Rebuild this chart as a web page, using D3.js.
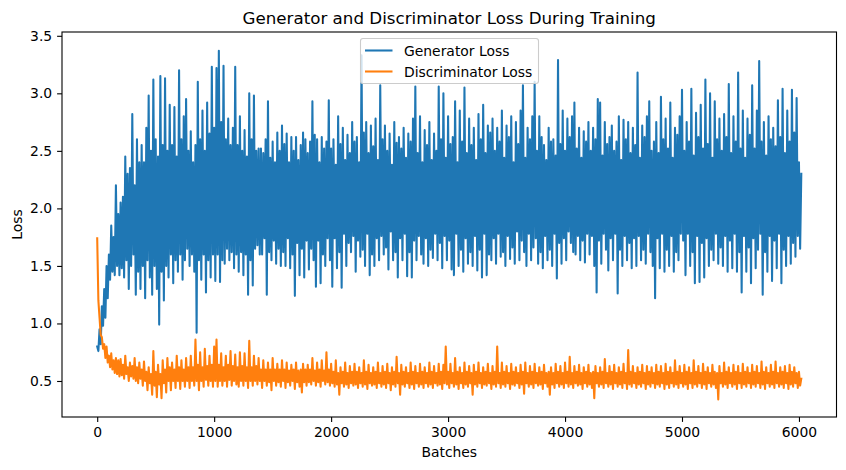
<!DOCTYPE html>
<html>
<head>
<meta charset="utf-8">
<script src="https://cdn.jsdelivr.net/npm/d3@7"></script>
<style>
  html, body { margin: 0; padding: 0; background: #fff; }
  svg { display: block; font-family: "DejaVu Sans", sans-serif; }
</style>
</head>
<body>
<svg id="chart" width="846" height="470"></svg>
<script>
// ---- data (one value every 10 batches) ----
const batchStep = 10;
const seriesNames = ["Generator Loss", "Discriminator Loss"];
const seriesColors = ["#1f77b4", "#ff7f0e"];
const xTicks = [0, 1000, 2000, 3000, 4000, 5000, 6000];
const yTicks = [0.5, 1.0, 1.5, 2.0, 2.5, 3.0, 3.5];

const generatorLoss = [
  0.80, 0.76, 0.95, 0.82, 1.15, 0.98, 1.30, 1.05, 1.50, 1.22, 1.60, 1.38, 1.85, 1.45, 1.75, 1.42, 2.20, 1.50, 1.95, 1.42,
  2.05, 1.48, 2.10, 1.40, 2.45, 1.55, 2.30, 1.30, 2.35, 1.50, 2.82, 1.60, 2.20, 1.25, 2.60, 1.45, 2.40, 1.30, 2.55, 1.50,
  2.40, 1.22, 2.70, 1.55, 2.98, 1.40, 2.50, 1.25, 3.12, 1.50, 2.60, 1.30, 2.45, 0.99, 3.15, 1.45, 2.55, 1.20, 3.13, 1.50,
  2.50, 1.40, 2.90, 1.60, 2.55, 1.35, 2.88, 1.55, 2.45, 1.45, 3.20, 1.60, 2.60, 1.38, 2.80, 1.55, 2.95, 1.65, 2.50, 1.50,
  2.67, 1.60, 2.40, 1.45, 2.55, 0.92, 3.10, 1.55, 2.60, 1.38, 2.85, 1.60, 2.50, 1.27, 2.92, 1.55, 2.65, 1.40, 3.23, 1.60,
  2.70, 1.37, 3.22, 1.60, 3.37, 1.36, 2.75, 1.55, 3.24, 1.52, 2.60, 1.65, 2.78, 1.55, 2.55, 1.62, 2.70, 1.48, 3.23, 1.60,
  2.55, 1.45, 2.80, 1.62, 2.50, 1.42, 2.68, 1.60, 2.45, 1.25, 3.00, 1.55, 2.60, 1.33, 2.98, 1.65, 2.50, 1.68, 2.52, 1.60,
  2.52, 1.60, 2.48, 1.74, 2.60, 1.25, 2.93, 1.62, 2.44, 1.55, 2.58, 1.72, 2.40, 1.52, 2.66, 1.65, 2.50, 1.50, 2.72, 1.62,
  2.56, 1.50, 2.65, 1.74, 2.40, 1.48, 2.62, 1.60, 2.50, 1.24, 2.62, 1.70, 2.42, 1.42, 2.55, 1.65, 2.66, 1.40, 2.60, 1.72,
  2.48, 1.47, 2.58, 1.65, 2.93, 1.55, 2.64, 1.32, 2.60, 1.72, 2.40, 1.35, 2.62, 1.60, 2.52, 1.50, 2.58, 1.74, 2.94, 1.55,
  2.52, 1.32, 2.60, 1.74, 2.38, 1.48, 2.80, 1.62, 2.56, 1.31, 2.70, 1.78, 2.42, 1.50, 2.64, 1.70, 2.48, 1.62, 2.75, 1.76,
  2.58, 1.45, 2.62, 1.72, 2.40, 1.58, 3.33, 1.64, 2.66, 1.50, 2.75, 1.78, 2.48, 1.42, 2.72, 1.60, 2.54, 1.50, 2.78, 1.74,
  2.42, 1.55, 3.07, 1.76, 2.60, 1.60, 2.72, 1.66, 2.50, 1.47, 2.65, 1.80, 2.38, 1.55, 2.75, 1.62, 2.57, 1.40, 2.62, 1.74,
  2.52, 1.55, 2.70, 1.78, 2.44, 1.41, 2.65, 1.62, 2.58, 1.40, 2.78, 1.72, 3.06, 1.55, 2.48, 1.76, 2.80, 1.60, 2.40, 1.52,
  2.68, 1.74, 2.55, 1.50, 2.75, 1.64, 2.42, 1.57, 2.65, 1.78, 2.50, 1.55, 3.06, 1.70, 2.60, 1.48, 3.00, 1.76, 2.44, 1.55,
  2.80, 1.72, 2.56, 1.47, 2.62, 1.42, 2.93, 1.78, 2.40, 1.50, 2.85, 1.64, 2.58, 1.45, 3.05, 1.74, 2.48, 1.52, 2.78, 1.62,
  2.55, 1.50, 2.70, 1.76, 2.42, 1.46, 2.82, 1.64, 2.60, 1.40, 2.90, 1.78, 2.48, 1.42, 2.72, 1.60, 2.66, 1.55, 2.78, 1.74,
  2.50, 1.52, 2.70, 1.78, 2.58, 1.58, 2.85, 1.62, 2.44, 1.50, 2.72, 1.76, 2.62, 1.56, 2.80, 1.66, 2.40, 1.52, 2.75, 1.80,
  2.56, 1.55, 2.85, 1.72, 3.07, 1.62, 2.44, 1.50, 2.70, 1.78, 2.60, 1.55, 2.80, 1.66, 3.10, 1.74, 2.50, 1.52, 2.80, 1.62,
  2.62, 1.48, 2.55, 1.76, 2.42, 1.55, 2.70, 1.64, 2.58, 1.50, 2.60, 1.78, 2.46, 1.39, 3.29, 1.70, 2.56, 1.52, 2.85, 1.74,
  2.50, 1.55, 2.78, 1.80, 2.62, 1.70, 2.80, 1.62, 2.92, 1.60, 2.52, 1.76, 2.70, 1.55, 2.44, 1.72, 2.67, 1.53, 2.58, 1.78,
  2.75, 1.60, 2.50, 1.76, 2.70, 1.50, 2.60, 1.27, 2.95, 1.72, 2.92, 1.52, 2.46, 1.78, 2.75, 1.64, 2.56, 1.46, 2.62, 1.74,
  2.72, 1.55, 2.50, 1.78, 2.58, 1.26, 2.80, 1.64, 2.42, 1.50, 2.77, 1.76, 2.60, 1.55, 2.75, 1.70, 2.48, 1.48, 2.70, 1.74,
  2.55, 1.50, 3.18, 1.76, 2.44, 1.55, 2.72, 1.64, 2.62, 1.52, 2.80, 1.78, 2.93, 1.62, 2.50, 1.50, 2.58, 1.22, 2.75, 1.74,
  2.48, 1.48, 2.97, 1.78, 2.60, 1.45, 2.78, 1.64, 2.52, 1.50, 2.92, 1.76, 2.44, 1.45, 2.70, 1.62, 2.64, 1.55, 2.80, 1.78,
  3.03, 1.72, 2.50, 1.42, 2.75, 1.78, 2.58, 1.50, 3.04, 1.62, 2.46, 1.35, 2.83, 1.76, 2.62, 1.36, 2.90, 1.70, 2.52, 1.40,
  3.12, 1.74, 2.56, 1.50, 3.00, 1.64, 2.44, 1.55, 2.93, 1.78, 2.60, 1.52, 2.78, 1.66, 2.50, 1.50, 2.82, 1.76, 2.62, 1.45,
  3.08, 1.72, 2.48, 1.48, 2.80, 1.78, 2.58, 1.45, 3.18, 1.62, 2.52, 1.27, 2.85, 1.76, 2.44, 1.45, 2.78, 1.66, 2.64, 1.35,
  3.07, 1.74, 2.52, 1.48, 2.85, 1.64, 3.28, 1.78, 2.58, 1.25, 2.75, 1.62, 2.46, 1.45, 2.80, 1.76, 2.60, 1.37, 2.70, 1.72,
  2.54, 1.48, 2.94, 1.78, 2.62, 1.35, 3.04, 1.64, 2.48, 1.50, 2.85, 1.76, 2.58, 1.52, 3.03, 1.70, 2.66, 1.58, 2.96, 1.76,
  2.40, 1.65, 2.30
];

const discriminatorLoss = [
  1.74, 1.20, 1.05, 0.90, 0.88, 0.78, 0.82, 0.70, 0.80, 0.66, 0.72, 0.62, 0.74, 0.60, 0.68, 0.57, 0.70, 0.56, 0.68, 0.54,
  0.69, 0.55, 0.64, 0.52, 0.72, 0.56, 0.62, 0.50, 0.66, 0.54, 0.63, 0.52, 0.70, 0.50, 0.62, 0.48, 0.66, 0.52, 0.60, 0.46,
  0.67, 0.50, 0.58, 0.42, 0.62, 0.48, 0.56, 0.38, 0.76, 0.46, 0.58, 0.36, 0.64, 0.47, 0.56, 0.35, 0.68, 0.48, 0.60, 0.40,
  0.70, 0.50, 0.62, 0.42, 0.66, 0.50, 0.60, 0.44, 0.72, 0.50, 0.62, 0.43, 0.68, 0.50, 0.60, 0.45, 0.70, 0.50, 0.62, 0.44,
  0.72, 0.50, 0.62, 0.46, 0.86, 0.50, 0.64, 0.42, 0.75, 0.50, 0.62, 0.45, 0.78, 0.51, 0.63, 0.46, 0.72, 0.50, 0.64, 0.45,
  0.80, 0.50, 0.86, 0.45, 0.64, 0.50, 0.74, 0.46, 0.62, 0.50, 0.72, 0.45, 0.64, 0.51, 0.76, 0.46, 0.63, 0.50, 0.73, 0.47,
  0.62, 0.45, 0.75, 0.50, 0.63, 0.46, 0.74, 0.50, 0.62, 0.44, 0.85, 0.50, 0.62, 0.46, 0.72, 0.50, 0.63, 0.47, 0.70, 0.50,
  0.60, 0.44, 0.68, 0.50, 0.60, 0.46, 0.66, 0.49, 0.60, 0.42, 0.70, 0.50, 0.60, 0.46, 0.65, 0.49, 0.60, 0.45, 0.68, 0.50,
  0.60, 0.44, 0.66, 0.49, 0.59, 0.46, 0.64, 0.50, 0.60, 0.43, 0.66, 0.49, 0.59, 0.45, 0.60, 0.40, 0.65, 0.49, 0.60, 0.46,
  0.64, 0.49, 0.60, 0.47, 0.70, 0.50, 0.59, 0.46, 0.66, 0.49, 0.60, 0.45, 0.68, 0.50, 0.59, 0.47, 0.75, 0.49, 0.60, 0.46,
  0.65, 0.48, 0.58, 0.45, 0.68, 0.47, 0.57, 0.38, 0.62, 0.48, 0.58, 0.45, 0.66, 0.47, 0.57, 0.44, 0.63, 0.48, 0.58, 0.46,
  0.65, 0.47, 0.58, 0.44, 0.62, 0.48, 0.57, 0.45, 0.68, 0.47, 0.58, 0.43, 0.64, 0.48, 0.57, 0.46, 0.62, 0.47, 0.58, 0.44,
  0.66, 0.48, 0.57, 0.45, 0.63, 0.47, 0.58, 0.44, 0.65, 0.48, 0.57, 0.42, 0.62, 0.47, 0.58, 0.45, 0.71, 0.48, 0.57, 0.38,
  0.64, 0.47, 0.58, 0.45, 0.62, 0.48, 0.57, 0.44, 0.66, 0.47, 0.58, 0.43, 0.63, 0.48, 0.57, 0.45, 0.65, 0.47, 0.58, 0.44,
  0.62, 0.48, 0.57, 0.45, 0.66, 0.47, 0.58, 0.44, 0.63, 0.48, 0.57, 0.46, 0.65, 0.47, 0.58, 0.43, 0.64, 0.48, 0.80, 0.47,
  0.58, 0.44, 0.65, 0.48, 0.57, 0.45, 0.70, 0.47, 0.58, 0.43, 0.62, 0.48, 0.57, 0.44, 0.66, 0.47, 0.58, 0.45, 0.63, 0.48,
  0.57, 0.38, 0.64, 0.47, 0.58, 0.45, 0.66, 0.48, 0.57, 0.44, 0.62, 0.47, 0.58, 0.46, 0.65, 0.48, 0.57, 0.43, 0.63, 0.47,
  0.58, 0.45, 0.80, 0.48, 0.57, 0.44, 0.66, 0.47, 0.58, 0.45, 0.63, 0.48, 0.57, 0.43, 0.65, 0.47, 0.58, 0.46, 0.62, 0.48,
  0.57, 0.44, 0.64, 0.47, 0.58, 0.39, 0.66, 0.48, 0.57, 0.45, 0.63, 0.47, 0.58, 0.44, 0.65, 0.48, 0.57, 0.46, 0.62, 0.47,
  0.58, 0.43, 0.64, 0.48, 0.57, 0.45, 0.58, 0.38, 0.62, 0.47, 0.57, 0.44, 0.65, 0.48, 0.58, 0.45, 0.63, 0.47, 0.57, 0.44,
  0.66, 0.48, 0.58, 0.45, 0.71, 0.47, 0.57, 0.44, 0.63, 0.48, 0.58, 0.46, 0.64, 0.47, 0.57, 0.43, 0.62, 0.48, 0.58, 0.45,
  0.64, 0.47, 0.57, 0.44, 0.58, 0.35, 0.63, 0.48, 0.57, 0.45, 0.62, 0.47, 0.58, 0.44, 0.69, 0.48, 0.57, 0.45, 0.63, 0.47,
  0.58, 0.43, 0.64, 0.48, 0.57, 0.45, 0.62, 0.47, 0.58, 0.44, 0.65, 0.48, 0.57, 0.43, 0.77, 0.47, 0.58, 0.45, 0.63, 0.48,
  0.57, 0.44, 0.62, 0.47, 0.58, 0.45, 0.64, 0.48, 0.57, 0.43, 0.63, 0.47, 0.58, 0.45, 0.62, 0.48, 0.57, 0.44, 0.64, 0.47,
  0.58, 0.45, 0.63, 0.48, 0.57, 0.43, 0.65, 0.47, 0.58, 0.44, 0.62, 0.48, 0.57, 0.45, 0.68, 0.47, 0.58, 0.44, 0.63, 0.48,
  0.57, 0.45, 0.64, 0.47, 0.58, 0.43, 0.62, 0.48, 0.57, 0.44, 0.68, 0.47, 0.58, 0.45, 0.63, 0.48, 0.57, 0.44, 0.65, 0.47,
  0.58, 0.43, 0.62, 0.48, 0.57, 0.45, 0.64, 0.47, 0.58, 0.44, 0.57, 0.34, 0.63, 0.48, 0.57, 0.45, 0.66, 0.47, 0.58, 0.44,
  0.62, 0.48, 0.57, 0.45, 0.64, 0.47, 0.58, 0.43, 0.63, 0.48, 0.57, 0.44, 0.65, 0.47, 0.58, 0.45, 0.62, 0.48, 0.57, 0.44,
  0.64, 0.47, 0.58, 0.45, 0.63, 0.48, 0.57, 0.44, 0.67, 0.47, 0.58, 0.43, 0.62, 0.48, 0.57, 0.45, 0.64, 0.47, 0.58, 0.44,
  0.67, 0.48, 0.57, 0.45, 0.62, 0.47, 0.58, 0.44, 0.63, 0.48, 0.57, 0.43, 0.64, 0.47, 0.58, 0.45, 0.62, 0.48, 0.57, 0.44,
  0.58, 0.46, 0.52
];

// ---- layout ----
const plot = { left: 62, right: 836.5, top: 32, bottom: 417 };
const fontPx = 13.9;

const svg = d3.select("#chart");

const x = d3.scaleLinear().domain([-301, 6321]).range([plot.left, plot.right]);
const y = d3.scaleLinear().domain([0.187, 3.533]).range([plot.bottom, plot.top]);

svg.append("defs").append("clipPath").attr("id", "clip")
  .append("rect")
  .attr("x", plot.left).attr("y", plot.top)
  .attr("width", plot.right - plot.left).attr("height", plot.bottom - plot.top);

const line = d3.line()
  .x((d, i) => x(i * batchStep))
  .y(d => y(d));

const series = [generatorLoss, discriminatorLoss];
const lines = svg.append("g").attr("clip-path", "url(#clip)");
series.forEach((s, k) => {
  lines.append("path")
    .datum(s)
    .attr("d", line)
    .attr("fill", "none")
    .attr("stroke", seriesColors[k])
    .attr("stroke-width", 2.08)
    .attr("stroke-linejoin", "round")
    .attr("stroke-linecap", "square");
});

// axes
const xAxis = d3.axisBottom(x).tickValues(xTicks).tickSize(4.9).tickPadding(4.9)
  .tickFormat(d3.format("d"));
const yAxis = d3.axisLeft(y).tickValues(yTicks).tickSize(4.9).tickPadding(4.9)
  .tickFormat(d3.format(".1f"));

const gx = svg.append("g").attr("transform", `translate(0,${plot.bottom})`).call(xAxis);
const gy = svg.append("g").attr("transform", `translate(${plot.left},0)`).call(yAxis);
[gx, gy].forEach(g => {
  g.select(".domain").remove();
  g.selectAll(".tick line").attr("stroke", "#000").attr("stroke-width", 1.1);
  g.selectAll(".tick text").attr("fill", "#000")
    .style("font-size", fontPx + "px").style("font-family", "DejaVu Sans");
});

// spines
svg.append("rect")
  .attr("x", plot.left).attr("y", plot.top)
  .attr("width", plot.right - plot.left).attr("height", plot.bottom - plot.top)
  .attr("fill", "none").attr("stroke", "#000").attr("stroke-width", 1.1);

// title and labels
svg.append("text")
  .attr("x", (plot.left + plot.right) / 2).attr("y", 24)
  .attr("text-anchor", "middle")
  .style("font-size", "16.7px")
  .text("Generator and Discriminator Loss During Training");

svg.append("text")
  .attr("x", (plot.left + plot.right) / 2).attr("y", 457)
  .attr("text-anchor", "middle")
  .style("font-size", fontPx + "px")
  .text("Batches");

svg.append("text")
  .attr("transform", `translate(22,${(plot.top + plot.bottom) / 2}) rotate(-90)`)
  .attr("text-anchor", "middle")
  .style("font-size", fontPx + "px")
  .text("Loss");

// legend
const lg = svg.append("g");
const lgBox = { x: 360.5, y: 38.5, w: 178, h: 45 };
lg.append("rect")
  .attr("x", lgBox.x).attr("y", lgBox.y)
  .attr("width", lgBox.w).attr("height", lgBox.h)
  .attr("rx", 2.5)
  .attr("fill", "#fff").attr("fill-opacity", 0.8)
  .attr("stroke", "#cccccc").attr("stroke-width", 1.1);
seriesNames.forEach((name, i) => {
  const cy = 50.5 + i * 21;
  lg.append("line")
    .attr("x1", 365).attr("x2", 392.5)
    .attr("y1", cy).attr("y2", cy)
    .attr("stroke", seriesColors[i]).attr("stroke-width", 2.08);
  lg.append("text")
    .attr("x", 404).attr("y", cy + 5)
    .style("font-size", fontPx + "px")
    .text(name);
});
</script>
</body>
</html>
